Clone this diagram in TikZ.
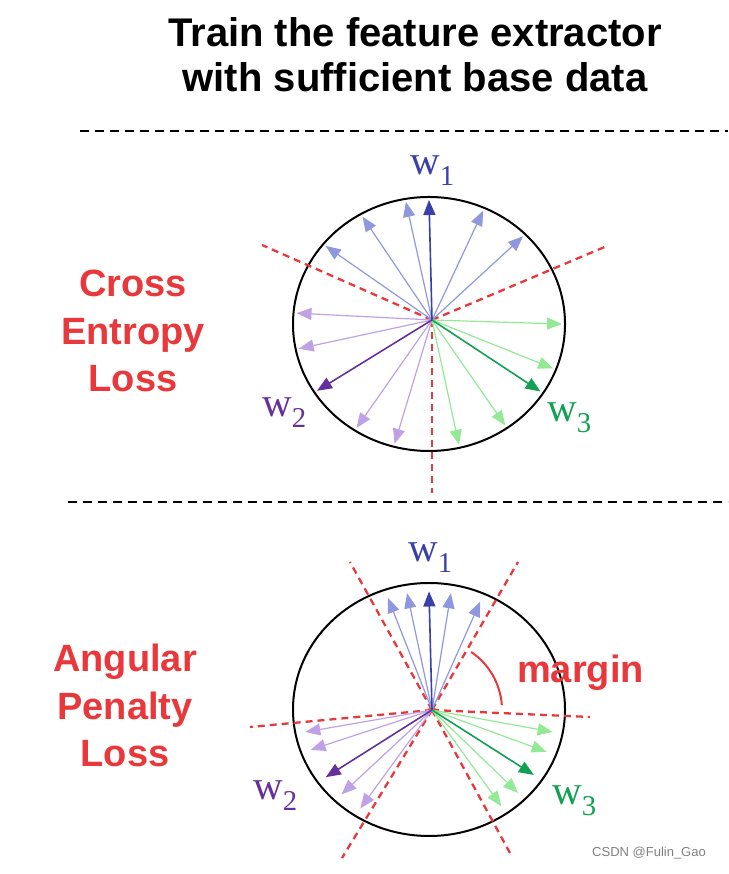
\documentclass[tikz,border=0pt]{standalone}
\usepackage{fontspec}
\setmainfont{Liberation Sans}
\newfontfamily\wfont{Liberation Serif}
\usetikzlibrary{arrows.meta, shapes.geometric, calc}
\definecolor{lossred}{HTML}{E8383B}
\definecolor{wblue}{HTML}{3A40A8}
\definecolor{lblue}{HTML}{8F98DE}
\definecolor{wpurple}{HTML}{64309E}
\definecolor{lpurple}{HTML}{BFA2E6}
\definecolor{wgreen}{HTML}{12A052}
\definecolor{lgreen}{HTML}{93E996}

\begin{document}
\begin{tikzpicture}[x=1pt, y=1pt,
    title/.style={font=\fontsize{40}{45}\selectfont\bfseries, align=center, anchor=base},
    loss/.style={font=\fontsize{38}{47.5}\selectfont\bfseries, text=lossred,
                 align=center, anchor=base},
    wlab/.style={font=\fontsize{41}{41}\selectfont\wfont, anchor=base west, inner sep=0pt},
    sep/.style={black, line width=2.5pt, dash pattern=on 9pt off 6pt},
    bound/.style={lossred, line width=2.3pt, dash pattern=on 7pt off 5pt},
    sphere/.style={black, line width=2pt},
    vec/.style={line width=1.2pt, -{Triangle[length=15pt,width=12pt]}},
    wvec/.style={vec, line width=1.6pt},
    centre/.style={star, star points=5, fill=lossred, minimum size=8pt, inner sep=0pt},
  ]
  \useasboundingbox (0,0) rectangle (728,874);

  \node[title] (head) at (415,782) {Train the feature extractor\\with sufficient base data};
  \coordinate (s1a) at (80,743);  \coordinate (s1b) at (728,743);
  \coordinate (s2a) at (68,372);  \coordinate (s2b) at (728,372);
  \draw[sep] (s1a) -- (s1b);
  \draw[sep] (s2a) -- (s2b);

  % cross entropy
  \node[loss] (celoss) at (133,482) {Cross\\Entropy\\Loss};
  \coordinate (c1) at (429,550);
  \draw[sphere] (c1) ellipse [x radius=136, y radius=127];
  \node[centre] (o1) at (432,554) {};
  \coordinate (b1l) at (262,629);
  \coordinate (b1r) at (607,628);
  \coordinate (b1d) at (432,381);
  \foreach \e in {b1l,b1r,b1d}
    \draw[bound] (o1.center) -- (\e);
  \foreach \a in {100,120,141,66,45}
    \draw[vec, lblue] (o1.center) -- ($(c1)+(\a:133 and 124)$);
  \foreach \a in {175,191.5,237,255}
    \draw[vec, lpurple] (o1.center) -- ($(c1)+(\a:133 and 124)$);
  \foreach \a in {0,-21,-55,-77}
    \draw[vec, lgreen] (o1.center) -- ($(c1)+(\a:133 and 124)$);
  \draw[wvec, wblue] (o1.center) -- ($(c1)+(90:133 and 124)$);
  \draw[wvec, wpurple] (o1.center) -- ($(c1)+(212.6:133 and 124)$);
  \draw[wvec, wgreen] (o1.center) -- ($(c1)+(-33:133 and 124)$);
  \node[wlab, text=wblue] (w1a) at (410,699) {w\textsubscript{1}};
  \node[wlab, text=wpurple] (w2a) at (262,457) {w\textsubscript{2}};
  \node[wlab, text=wgreen] (w3a) at (547,452) {w\textsubscript{3}};

  % angular penalty
  \node[loss] (aploss) at (125,107) {Angular\\Penalty\\Loss};
  \coordinate (c2) at (429,164.5);
  \draw[sphere] (c2) ellipse [x radius=136, y radius=126.5];
  \node[centre] (o2) at (432,164) {};
  \coordinate (b2a) at (350,312);
  \coordinate (b2b) at (518,312);
  \coordinate (b2c) at (510,21);
  \coordinate (b2d) at (342,16);
  \coordinate (b2e) at (250,147);
  \coordinate (b2f) at (590,157);
  \foreach \e in {b2a,b2b,b2c,b2d,b2e,b2f}
    \draw[bound] (o2.center) -- (\e);
  \foreach \a in {109,100,80,66}
    \draw[vec, lblue] (o2.center) -- ($(c2)+(\a:126 and 118)$);
  \foreach \a in {191,200,226,237}
    \draw[vec, lpurple] (o2.center) -- ($(c2)+(\a:126 and 118)$);
  \foreach \a in {-11,-21,-45,-55}
    \draw[vec, lgreen] (o2.center) -- ($(c2)+(\a:126 and 118)$);
  \draw[wvec, wblue] (o2.center) -- ($(c2)+(90:126 and 118)$);
  \draw[wvec, wpurple] (o2.center) -- ($(c2)+(215:126 and 118)$);
  \draw[wvec, wgreen] (o2.center) -- ($(c2)+(-33.7:126 and 118)$);
  \draw[lossred, line width=2pt] ($(o2.center)+(56:70)$) arc[start angle=56, end angle=4, radius=70];
  \node[font=\fontsize{38}{38}\selectfont\bfseries, text=lossred, anchor=base west,
        inner sep=0pt] (marg) at (517,191) {margin};
  \node[wlab, text=wblue] (w1b) at (408,312) {w\textsubscript{1}};
  \node[wlab, text=wpurple] (w2b) at (253,74) {w\textsubscript{2}};
  \node[wlab, text=wgreen] (w3b) at (552,69) {w\textsubscript{3}};

  \node[font=\fontsize{13}{13}\selectfont, text=gray, anchor=base west, inner sep=0pt]
    (mark) at (592,17) {CSDN @Fulin\_Gao};
\end{tikzpicture}
\end{document}
